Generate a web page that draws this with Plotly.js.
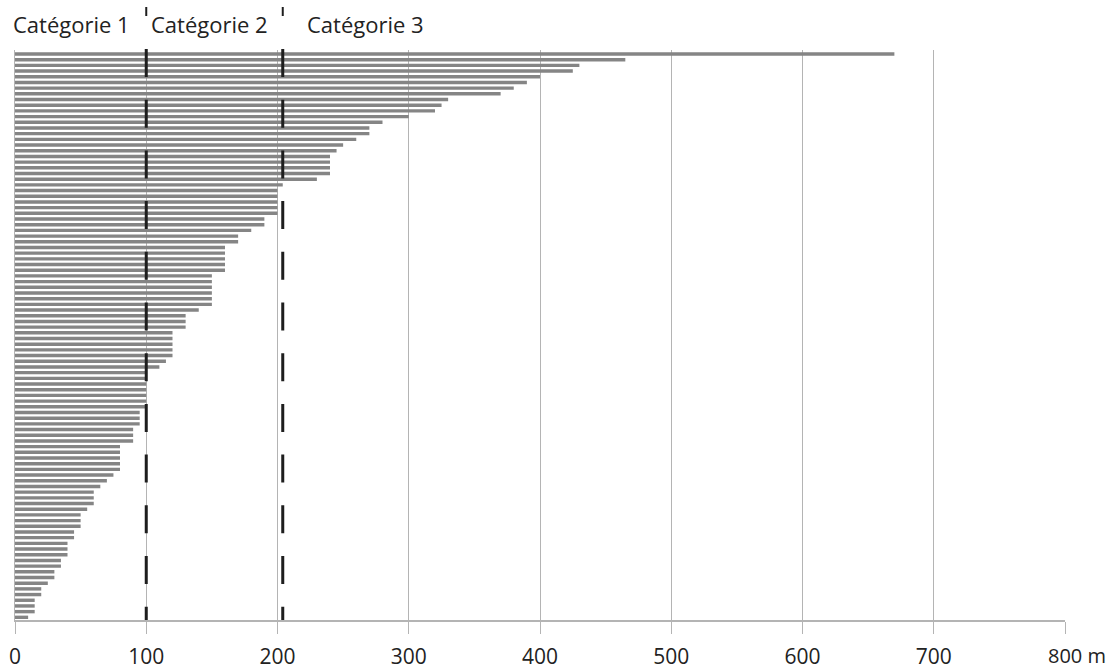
<!DOCTYPE html>
<html>
<head>
<meta charset="utf-8">
<script src="https://cdn.plot.ly/plotly-3.0.1.min.js"></script>
<style>html,body{margin:0;padding:0;background:#fff;}#chart{width:1115px;height:672px;}</style>
</head>
<body>
<div id="chart"></div>
<script>
// Distances (m), one bar per item, sorted from longest (top) to shortest (bottom)
const distances = [670,465,430,425,400,390,380,370,330,325,
  320,300,280,270,270,260,250,245,240,240,
  240,240,230,204,200,200,200,200,200,190,
  190,180,170,170,160,160,160,160,160,150,
  150,150,150,150,150,140,130,130,130,120,
  120,120,120,120,115,110,100,100,100,100,
  100,100,100,95,95,95,90,90,90,80,
  80,80,80,80,75,70,65,60,60,60,
  55,50,50,50,45,45,40,40,40,35,
  35,30,30,25,20,20,15,15,15,10];
const tickValues = [0,100,200,300,400,500,600,700,800];
const tickLabels = ['0','100','200','300','400','500','600','700',''];
const lastTickLabel = '800 m';
const categoryNames = ['Catégorie 1','Catégorie 2','Catégorie 3'];
const categoryLimits = [100, 204];

const ranks = distances.map((d, i) => i + 1);
const font = 'Open Sans, Noto Sans, sans-serif';

const trace = {
  type: 'bar', orientation: 'h',
  x: distances, y: ranks,
  width: 0.6,
  marker: {color: '#858585', line: {width: 0}},
  hoverinfo: 'skip'
};

const xLeft = 15, xRight = 1065, W = xRight - xLeft;
const yTop = 50, yBot = 620, H = yBot - yTop;
const py = p => (yBot - p) / H;
const px = p => (p - xLeft) / W;

const shapes = [];
categoryLimits.forEach(v => {
  shapes.push({type: 'line', xref: 'x', yref: 'paper', x0: v, x1: v, y0: py(49), y1: py(620),
    line: {color: '#1e1e1e', width: 3, dash: '28px,22.7px'}});
  shapes.push({type: 'line', xref: 'x', yref: 'paper', x0: v, x1: v, y0: py(7), y1: py(16),
    line: {color: '#1e1e1e', width: 2}});
});

const catPx = [11, 149, 305];
const annotations = categoryNames.map((t, i) => ({
  text: t, xref: 'paper', yref: 'paper', x: px(catPx[i]), y: py(24), xanchor: 'left', yanchor: 'middle',
  showarrow: false, font: {family: font, size: 22, color: '#222'}
}));
annotations.push({text: lastTickLabel, xref: 'paper', yref: 'paper', x: px(1046), y: py(655), xanchor: 'left', yanchor: 'middle',
  showarrow: false, font: {family: font, size: 20, color: '#222'}});

const layout = {
  width: 1115, height: 672,
  margin: {l: xLeft, r: 1115 - xRight, t: yTop, b: 672 - yBot, pad: 0},
  paper_bgcolor: '#fff', plot_bgcolor: '#fff',
  showlegend: false,
  bargap: 0.4,
  xaxis: {
    range: [0, 800], tickvals: tickValues, ticktext: tickLabels,
    showgrid: true, gridcolor: '#b4b4b4', gridwidth: 1,
    zeroline: false, showline: true, linecolor: '#b4b4b4', linewidth: 2,
    ticks: 'outside', ticklen: 12, tickcolor: '#b4b4b4', tickwidth: 1,
    ticklabelstandoff: 5,
    tickfont: {family: font, size: 21, color: '#222'}
  },
  yaxis: {
    range: [100.47, 0.297], showticklabels: false, ticks: '',
    showgrid: false, zeroline: false, showline: true, linecolor: '#b4b4b4', linewidth: 1
  },
  shapes: shapes,
  annotations: annotations
};

Plotly.newPlot('chart', [trace], layout, {staticPlot: true, displayModeBar: false});
</script>
</body>
</html>
